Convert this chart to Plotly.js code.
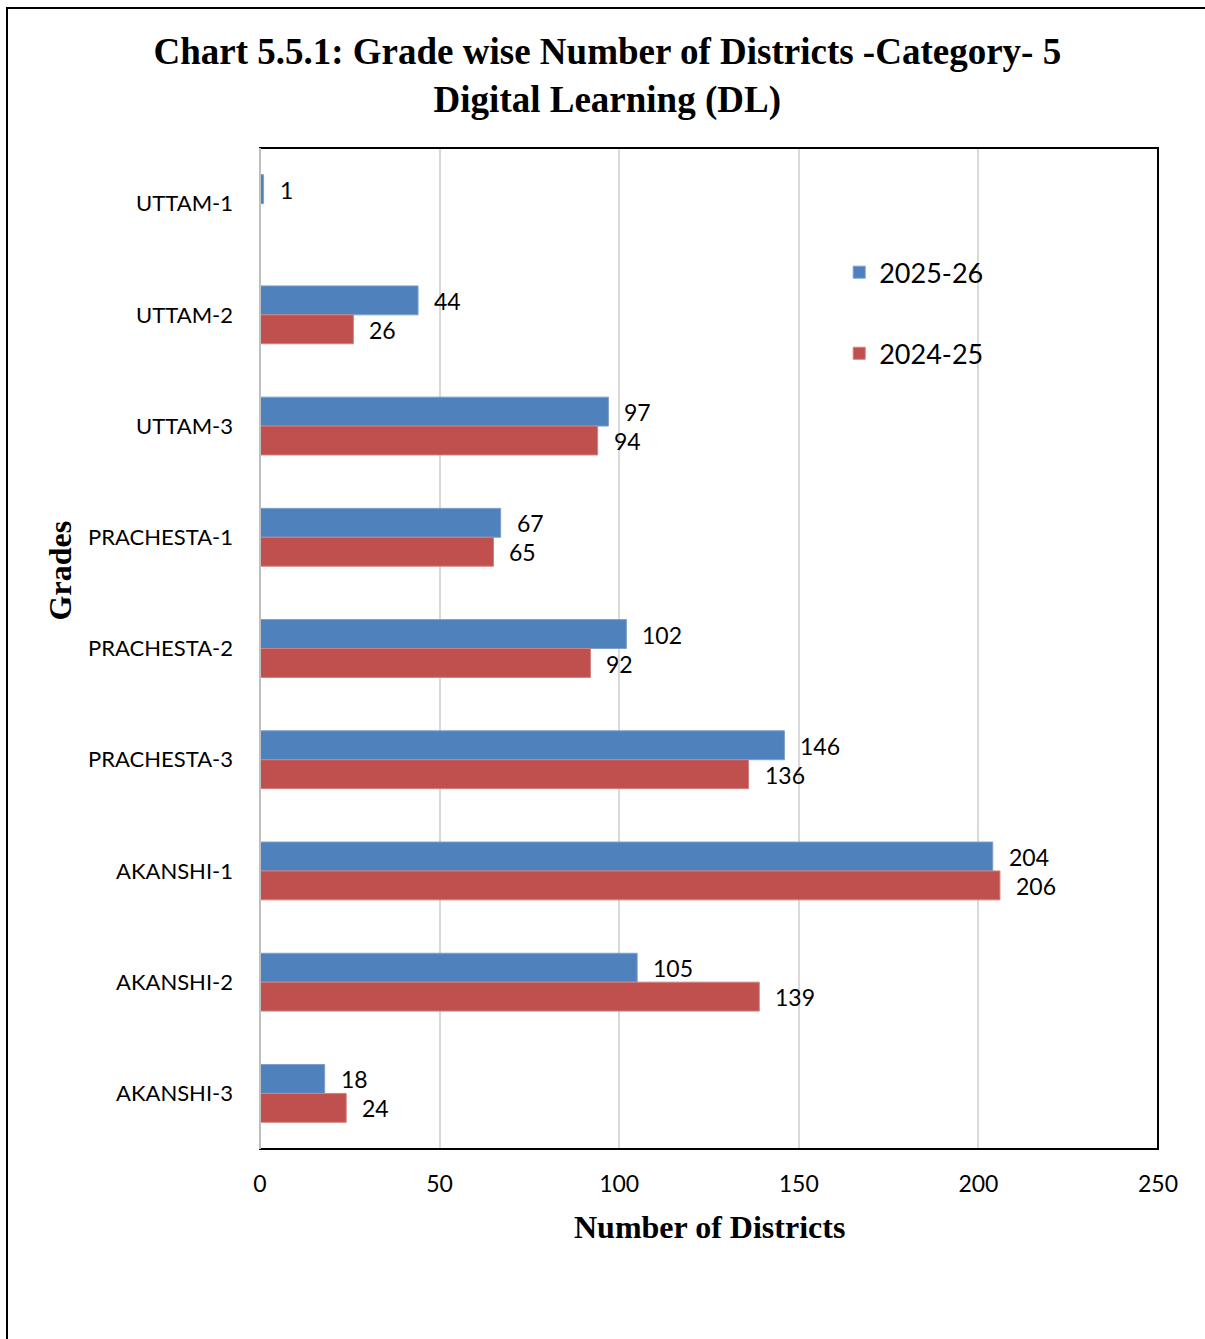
<!DOCTYPE html>
<html>
<head>
<meta charset="utf-8">
<script src="https://cdn.plot.ly/plotly-3.0.1.min.js"></script>
<style>
  html, body { margin: 0; padding: 0; background: #fff; overflow: hidden; }
  #wrap { position: relative; width: 1205px; height: 1339px; }
  #chart { position: absolute; left: 0; top: 0; width: 1205px; height: 1339px; }
  #frame { position: absolute; left: 6px; top: 7px; width: 1210px; height: 1400px;
           border: 2px solid #000; pointer-events: none; box-sizing: border-box; }
</style>
</head>
<body>
<div id="wrap">
  <div id="chart"></div>
  <div id="frame"></div>
</div>
<script>
const grades = ["UTTAM-1", "UTTAM-2", "UTTAM-3", "PRACHESTA-1", "PRACHESTA-2",
                "PRACHESTA-3", "AKANSHI-1", "AKANSHI-2", "AKANSHI-3"];
const values2025 = [1, 44, 97, 67, 102, 146, 204, 105, 18];
const values2024 = [null, 26, 94, 65, 92, 136, 206, 139, 24];
const seriesNames = ["2025-26", "2024-25"];
const xTicks = [0, 50, 100, 150, 200, 250];

const blue = "#4F81BD";
const red = "#C0504D";
const labelFont = { family: "Lato, 'Noto Sans', sans-serif", size: 23, color: "#000" };
const serif = "'Liberation Serif', 'Times New Roman', serif";

const traces = [
  { type: "bar", orientation: "h", name: seriesNames[0], y: grades, x: values2025,
    marker: { color: blue, line: { color: "#7BA0CD", width: 1 } }, legendgroup: "a",
    hoverinfo: "x+y" },
  { type: "bar", orientation: "h", name: seriesNames[1], y: grades, x: values2024,
    marker: { color: red, line: { color: "#D4807E", width: 1 } }, legendgroup: "b",
    hoverinfo: "x+y" }
];

const annotations = [];
function addLabels(vals, yshift) {
  vals.forEach((v, i) => {
    if (v === null || v === undefined) return;
    annotations.push({ x: v, y: grades[i], xref: "x", yref: "y", text: String(v),
      showarrow: false, xanchor: "left", yanchor: "middle", xshift: 14, yshift: yshift,
      font: labelFont });
  });
}
addLabels(values2025, 14);
addLabels(values2024, -15);

annotations.push({ text: "<b>Number of Districts</b>", xref: "paper", yref: "paper",
  x: 0.5, y: 0, yshift: -78, showarrow: false, xanchor: "center", yanchor: "middle",
  font: { family: serif, size: 32, color: "#000" } });
annotations.push({ text: "<b>Grades</b>", xref: "paper", yref: "paper",
  x: -0.2227, y: 0.578, showarrow: false, xanchor: "center", yanchor: "middle", textangle: -90,
  font: { family: serif, size: 32, color: "#000" } });

const layout = {
  width: 1205, height: 1339,
  margin: { l: 260, r: 47, t: 148, b: 190 },
  paper_bgcolor: "#fff", plot_bgcolor: "#fff",
  title: { text: "<b>Chart 5.5.1: Grade wise Number of Districts -Category- 5<br>Digital Learning (DL)</b>",
    x: 0.504, xref: "container", xanchor: "center",
    y: 0.952, yref: "container", yanchor: "top",
    font: { family: serif, size: 37, color: "#000" } },
  barmode: "group", bargap: 0.48, bargroupgap: 0,
  xaxis: { range: [0, 250], tickvals: xTicks, ticktext: xTicks.map(String),
    showgrid: true, gridcolor: "#D9D9D9", gridwidth: 2, zeroline: false,
    showline: false, ticks: "", ticklabelstandoff: 19,
    tickfont: labelFont, fixedrange: true },
  yaxis: { type: "category", autorange: "reversed", showgrid: false, zeroline: false,
    showline: false, ticks: "", ticklabelstandoff: 26,
    tickfont: { family: "Lato, 'Noto Sans', sans-serif", size: 22, color: "#000" }, fixedrange: true },
  legend: { x: 0.645, y: 0.9, xanchor: "left", yanchor: "top", tracegroupgap: 43,
    traceorder: "grouped", bgcolor: "rgba(0,0,0,0)",
    font: { family: "Lato, 'Noto Sans', sans-serif", size: 27, color: "#000" } },
  shapes: [
    { type: "rect", xref: "paper", yref: "paper", x0: 0, x1: 1, y0: 0, y1: 1,
      line: { color: "#000", width: 2 }, fillcolor: "rgba(0,0,0,0)", layer: "above" },
    { type: "line", xref: "paper", yref: "paper", x0: 0, x1: 0, y0: 0, y1: 1,
      line: { color: "#BFBFBF", width: 2 }, layer: "above" }
  ],
  annotations: annotations,
  showlegend: true
};

Plotly.newPlot("chart", traces, layout, { displayModeBar: false, staticPlot: true });
</script>
</body>
</html>
